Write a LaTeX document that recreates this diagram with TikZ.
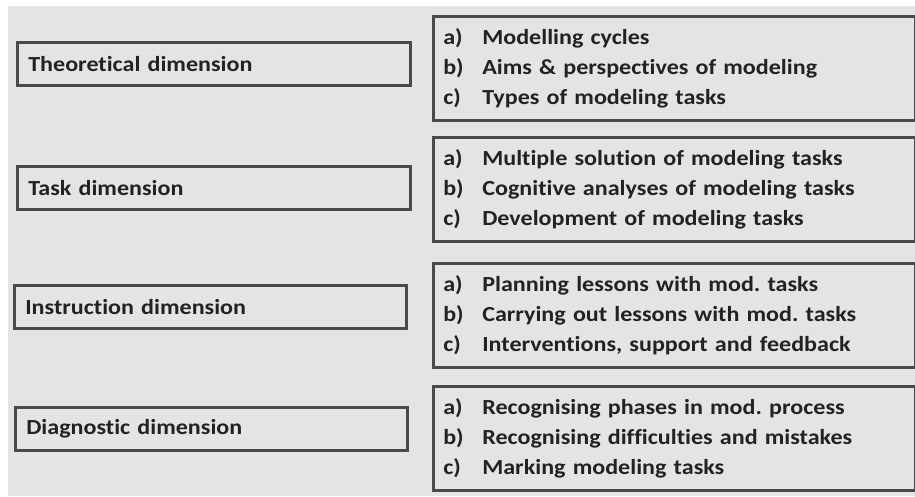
\documentclass[tikz,border=0pt]{standalone}
\usepackage{fontspec}
\setmainfont{Carlito}[Ligatures=NoCommon]
\newfontfamily\reffont{Carlito}[Ligatures=NoCommon, FakeStretch=1.12]
\definecolor{bg}{HTML}{E4E4E4}
\definecolor{frame}{HTML}{4A4A4A}
\definecolor{ink}{HTML}{222222}
\tikzset{
  dimbox/.style={draw=frame, line width=2.6pt, anchor=north west, inner xsep=11pt, inner ysep=0pt,
    text width=371pt, minimum height=43pt, align=left, text=ink, font=\reffont\bfseries\fontsize{21.5}{30}\selectfont},
  itembox/.style={draw=frame, line width=2.6pt, anchor=north west, inner xsep=10pt, inner ysep=0pt,
    text width=462pt, minimum height=104pt, align=left, text=ink, font=\reffont\bfseries\fontsize{21.5}{30}\selectfont},
}
\newcommand{\itemlist}[3]{\begin{tabular}{@{}p{28pt}@{\hspace{11pt}}l@{}}a) & #1\\ b) & #2\\ c) & #3\end{tabular}}
\frenchspacing
\begin{document}
\begin{tikzpicture}[x=1pt,y=-1pt]
\useasboundingbox (0,0) rectangle (915,496);
\fill[white] (0,0) rectangle (915,496);
\fill[bg] (8,6) rectangle (915,496);
\node[dimbox] (theo) at (16,41) {Theoretical dimension};
\node[dimbox] (task) at (16,165) {Task dimension};
\node[dimbox, text width=370pt] (instr) at (13,284) {Instruction dimension};
\node[dimbox, text width=370pt] (diag) at (14,406) {Diagnostic dimension};
\node[itembox] (theoI) at (432,15) {\itemlist{Modelling cycles}{Aims \& perspectives of modeling}{Types of modeling tasks}};
\node[itembox] (taskI) at (432,136) {\itemlist{Multiple solution of modeling tasks}{Cognitive analyses of modeling tasks}{Development of modeling tasks}};
\node[itembox] (instrI) at (432,262) {\itemlist{Planning lessons with mod. tasks}{Carrying out lessons with mod. tasks}{Interventions, support and feedback}};
\node[itembox] (diagI) at (432,385) {\itemlist{Recognising phases in mod. process}{Recognising difficulties and mistakes}{Marking modeling tasks}};
\end{tikzpicture}
\end{document}
